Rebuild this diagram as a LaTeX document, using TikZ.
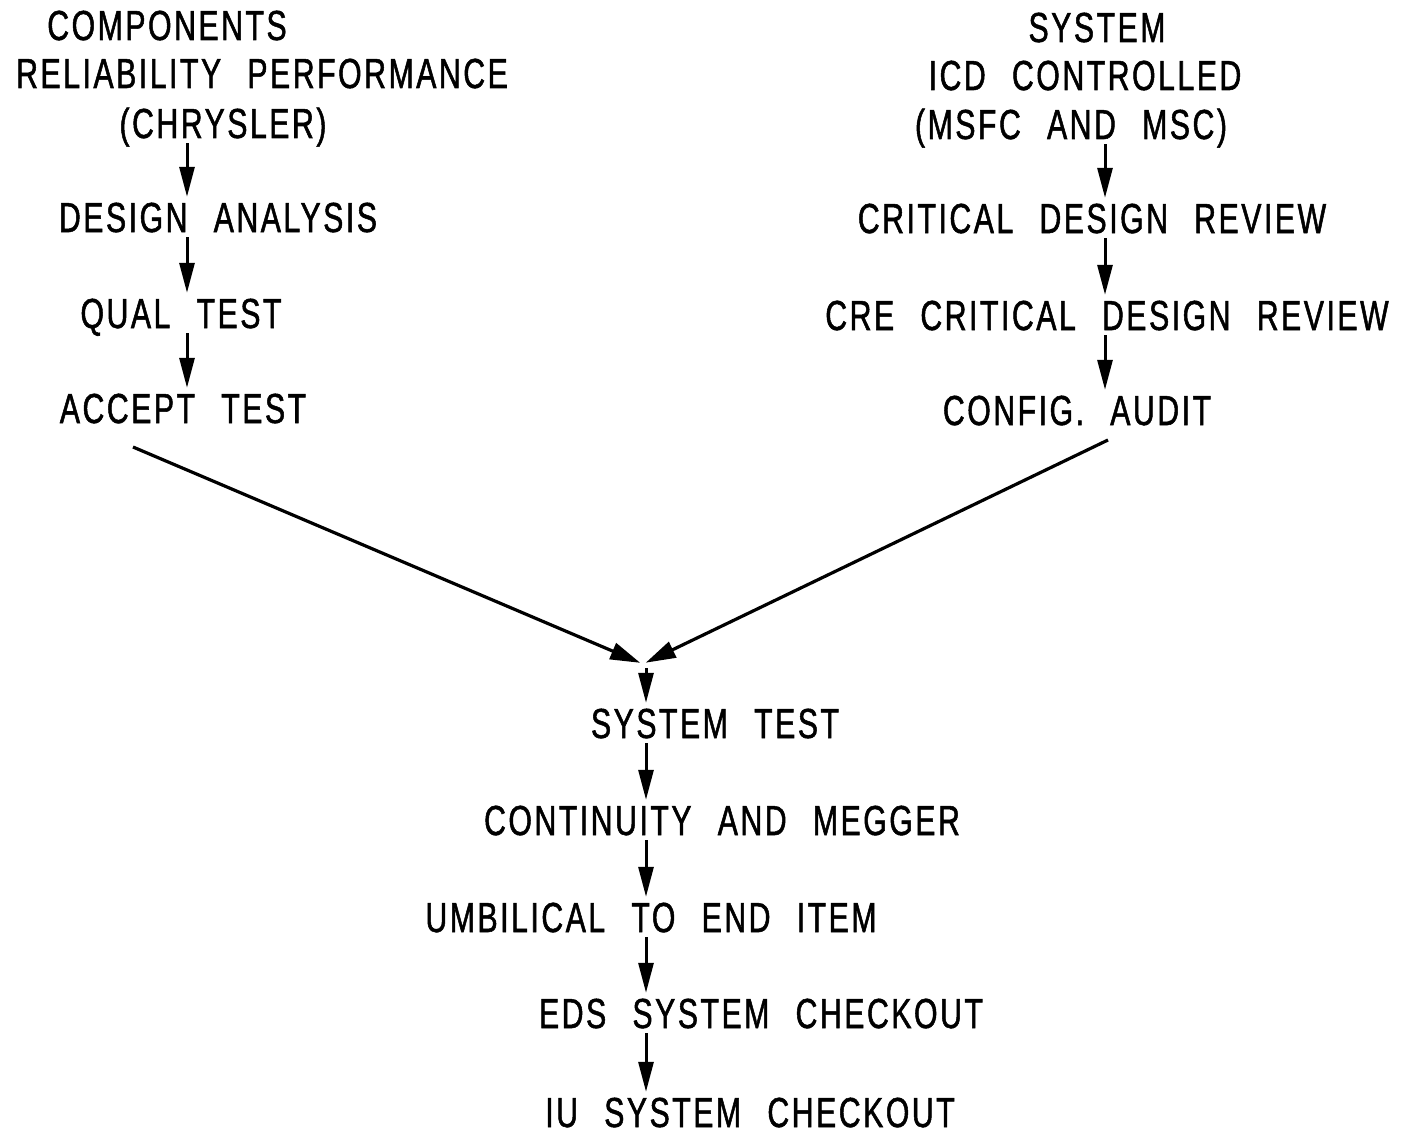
\documentclass[tikz,border=0pt]{standalone}
\usepackage{fontspec}
\setmainfont{Liberation Sans}[FakeStretch=0.72, WordSpace=2.4, LetterSpace=6, FakeBold=1.2]
\usetikzlibrary{arrows.meta}
\begin{document}
\begin{tikzpicture}[x=1pt,y=-1pt,
  lbl/.style={anchor=base, inner sep=0pt, text height=30pt, text depth=0pt, font=\fontsize{42}{50}\selectfont},
  arr/.style={line width=3pt, -{Triangle[length=30pt,width=15pt]}, shorten <=5pt, shorten >=5pt},
  darr/.style={line width=3.2pt, -{Triangle[length=30pt,width=17pt]}, shorten >=3pt}]
\useasboundingbox[fill=white] (0,0) rectangle (1411,1137);
% left column
\node[lbl] (c1) at (167,40) {COMPONENTS};
\node[lbl] (c2) at (262,88) {RELIABILITY PERFORMANCE};
\node[lbl] (c3) at (223,138) {(CHRYSLER)};
\node[lbl] (c4) at (218,232) {DESIGN ANALYSIS};
\node[lbl] (c5) at (181,328) {QUAL TEST};
\node[lbl] (c6) at (183,423) {ACCEPT TEST};
% right column
\node[lbl] (s1) at (1097,42) {SYSTEM};
\node[lbl] (s2) at (1085,90) {ICD CONTROLLED};
\node[lbl] (s3) at (1071,139) {(MSFC AND MSC)};
\node[lbl] (s4) at (1092,233) {CRITICAL DESIGN REVIEW};
\node[lbl] (s5) at (1107,330) {CRE CRITICAL DESIGN REVIEW};
\node[lbl] (s6) at (1077,425) {CONFIG. AUDIT};
% bottom column
\node[lbl] (b1) at (715,738) {SYSTEM TEST};
\node[lbl] (b2) at (722,835) {CONTINUITY AND MEGGER};
\node[lbl] (b3) at (651,932) {UMBILICAL TO END ITEM};
\node[lbl] (b4) at (761,1028) {EDS SYSTEM CHECKOUT};
\node[lbl] (b5) at (750,1127) {IU SYSTEM CHECKOUT};
% column lines
\coordinate (lx) at (187,0);
\coordinate (rx) at (1105,0);
\coordinate (bx) at (646,0);
\coordinate (ls) at (133,447);
\coordinate (rs) at (1108,440);
\coordinate (m) at (643,664);
% arrows
\draw[arr] (c3.south -| lx) -- (c4.north -| lx);
\draw[arr] (c4.south -| lx) -- (c5.north -| lx);
\draw[arr] (c5.south -| lx) -- (c6.north -| lx);
\draw[arr] (s3.south -| rx) -- (s4.north -| rx);
\draw[arr] (s4.south -| rx) -- (s5.north -| rx);
\draw[arr] (s5.south -| rx) -- (s6.north -| rx);
\draw[darr] (ls) -- (m);
\draw[darr] (rs) -- (m);
\draw[arr, shorten <=4pt] (m -| bx) -- (b1.north -| bx);
\draw[arr] (b1.south -| bx) -- (b2.north -| bx);
\draw[arr] (b2.south -| bx) -- (b3.north -| bx);
\draw[arr] (b3.south -| bx) -- (b4.north -| bx);
\draw[arr] (b4.south -| bx) -- (b5.north -| bx);
\end{tikzpicture}
\end{document}
